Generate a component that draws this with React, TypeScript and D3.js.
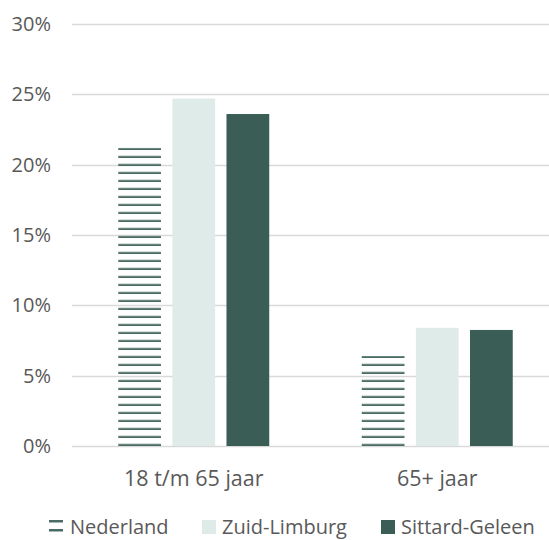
import { useEffect, useRef } from 'react';
import * as d3 from 'd3';

const categories = ['18 t/m 65 jaar', '65+ jaar'];
const seriesNames = ['Nederland', 'Zuid-Limburg', 'Sittard-Geleen'];
const nederland = [21.2, 6.4];
const zuidLimburg = [24.7, 8.4];
const sittardGeleen = [23.6, 8.25];
const yTicks = [0, 5, 10, 15, 20, 25, 30];

const DARK = '#3a5d55';
const LIGHT = '#dfebe9';
const TEXT = '#595959';
const FONT = '"Open Sans", "Noto Sans", sans-serif';

export default function App() {
  const svgRef = useRef<SVGSVGElement>(null);

  useEffect(() => {
    if (!svgRef.current) return;
    const root = d3.select(svgRef.current);
    root.selectAll('*').remove();

    const width = 549;
    const height = 540;
    const left = 72;
    const right = 559;
    const top = 24;
    const bottom = 446;

    const series = [nederland, zuidLimburg, sittardGeleen];

    const x0 = d3.scaleBand<string>().domain(categories).range([left, right]);
    const x1 = d3
      .scaleBand<number>()
      .domain([0, 1, 2])
      .range([0, 151])
      .paddingInner(0.21);
    const y = d3.scaleLinear().domain([0, 30]).range([bottom, top]);

    root.attr('width', width).attr('height', height);

    // stripe pattern for Nederland
    const defs = root.append('defs');
    const pat = defs
      .append('pattern')
      .attr('id', 'stripes')
      .attr('patternUnits', 'userSpaceOnUse')
      .attr('x', 0)
      .attr('y', y(0))
      .attr('width', 8)
      .attr('height', 8);
    pat.append('rect').attr('x', 0).attr('y', 5.5).attr('width', 8).attr('height', 0.8).attr('fill', '#a9bdb8');
    pat.append('rect').attr('x', 0).attr('y', 6.2).attr('width', 8).attr('height', 1.8).attr('fill', '#4a6c64');

    // gridlines
    root
      .append('g')
      .selectAll('line')
      .data(yTicks)
      .join('line')
      .attr('x1', left)
      .attr('x2', width)
      .attr('y1', d => Math.round(y(d)) + 0.5)
      .attr('y2', d => Math.round(y(d)) + 0.5)
      .attr('stroke', '#d9d9d9')
      .attr('stroke-width', 1.5);

    // y labels
    root
      .append('g')
      .selectAll('text')
      .data(yTicks)
      .join('text')
      .attr('x', 51)
      .attr('y', d => y(d))
      .attr('dy', '0.35em')
      .attr('text-anchor', 'end')
      .attr('fill', TEXT)
      .attr('font-family', FONT)
      .attr('font-size', 20)
      .text(d => `${d}%`);

    // bars
    const fills = ['url(#stripes)', LIGHT, DARK];
    categories.forEach((c, ci) => {
      const gx = (x0(c) ?? 0) + x0.bandwidth() / 2 - 75.5;
      series.forEach((vals, si) => {
        root
          .append('rect')
          .attr('x', gx + (x1(si) ?? 0))
          .attr('y', y(vals[ci]))
          .attr('width', x1.bandwidth())
          .attr('height', y(0) - y(vals[ci]))
          .attr('fill', fills[si]);
      });
    });

    // category labels
    root
      .append('g')
      .selectAll('text')
      .data(categories)
      .join('text')
      .attr('x', d => (x0(d) ?? 0) + x0.bandwidth() / 2)
      .attr('y', 486)
      .attr('text-anchor', 'middle')
      .attr('fill', TEXT)
      .attr('font-family', FONT)
      .attr('font-size', 21.5)
      .text(d => d);

    // legend
    const legendX = [49, 202, 381];
    const base = 534;
    const legend = root.append('g');
    seriesNames.forEach((name, i) => {
      const lx = legendX[i];
      if (i === 0) {
        legend.append('rect').attr('x', lx).attr('y', base - 14).attr('width', 14).attr('height', 2.5).attr('fill', '#4a6c64');
        legend.append('rect').attr('x', lx).attr('y', base - 5).attr('width', 14).attr('height', 2.5).attr('fill', '#4a6c64');
      } else {
        legend
          .append('rect')
          .attr('x', lx)
          .attr('y', base - 14)
          .attr('width', 14)
          .attr('height', 14)
          .attr('fill', i === 1 ? LIGHT : DARK);
      }
      legend
        .append('text')
        .attr('x', lx + (i === 0 ? 21 : 20))
        .attr('y', base)
        .attr('fill', TEXT)
        .attr('font-family', FONT)
        .attr('font-size', 20)
        .text(name);
    });
  }, []);

  return (
    <div style={{ position: 'absolute', left: 0, top: 0 }}>
      <svg ref={svgRef}></svg>
    </div>
  );
}
